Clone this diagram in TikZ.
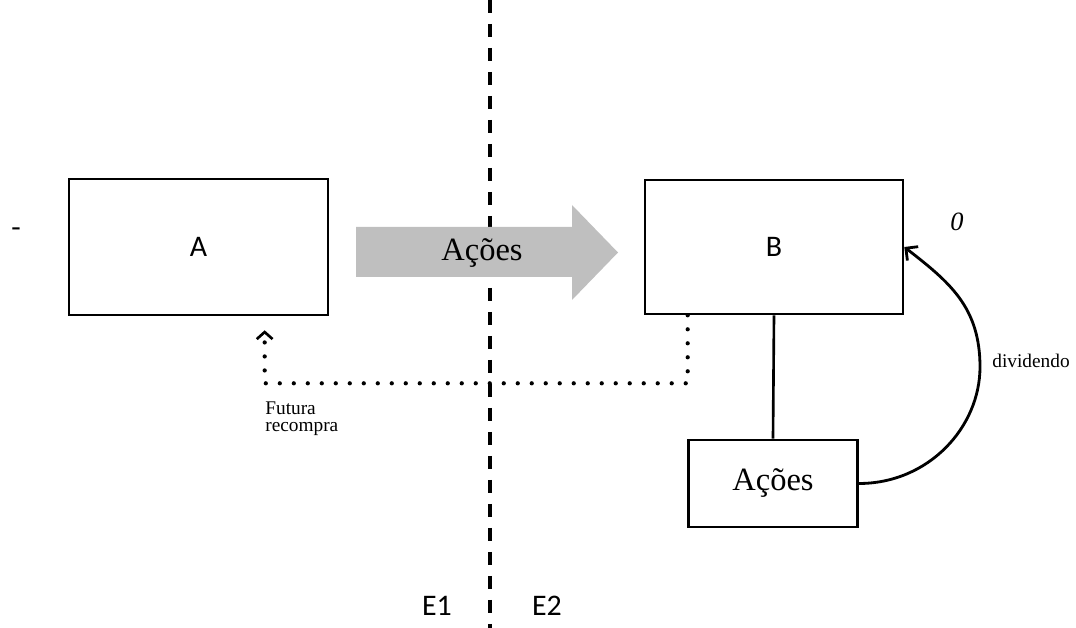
\documentclass[tikz,border=0pt]{standalone}
\usepackage{fontspec}
\setmainfont{Liberation Serif}
\newfontfamily\calibri{Carlito}
\usetikzlibrary{arrows.meta}
\tikzset{%
caixa/.style 2 args={draw, line width=1.5pt, inner sep=0pt,
  minimum width=#1, minimum height=#2},
rotulo/.style={font=\calibri\fontsize{17}{20}\selectfont},
texto/.style={font=\fontsize{18.5}{22}\selectfont},
nota/.style={font=\fontsize{11}{10}\selectfont, inner sep=0pt},
corte/.style={line width=2.2pt, dash pattern=on .26cm off .22cm},
recompra/.style={line width=.085cm, line cap=round, dash pattern=on 0pt off .28cm,
  -{Straight Barb[length=4pt,width=9pt,line width=1.5pt]}},
}

\begin{document}
\begin{tikzpicture}[x=0.02cm,y=-0.02cm]
  \useasboundingbox (0,0) rectangle (1076,628);
  % linha entre E1 e E2
  \coordinate (topo) at (490,0);
  \coordinate (fundo) at (490,628);
  \draw[corte] (topo) -- (fundo);
  \node[caixa={5.18cm}{2.72cm}, rotulo] (A) at (198.5,247) {A};
  \node[caixa={5.16cm}{2.68cm}, rotulo] (B) at (774,247) {B};
  \node[caixa={3.38cm}{1.74cm}, texto] (acoes) at (773,483.5) {Ações};
  \fill[gray!50] (356,227) -- (572,227) -- (572,205) -- (618,252.5)
    -- (572,300) -- (572,277) -- (356,277) -- cycle;
  \node[texto] (fluxo) at (482,253) {Ações};
  \draw[line width=1.5pt] (B.south) -- (acoes.north);
  \draw[line width=1.6pt, -{Straight Barb[length=5pt,width=10pt]}]
    (acoes.east) .. controls +(70,0) and +(0,60) .. (980,367)
    .. controls +(0,-60) and +(45,35) .. (B.east);
  \draw[recompra] ([xshift=.88cm]B.south west) -- ++(0,68)
    -| ([xshift=3.94cm,yshift=-.28cm]A.south west);
  \node[nota, anchor=north west, align=left] (futura) at (265,401) {Futura\\recompra};
  \node[nota, anchor=west] (dividendo) at (992,361) {dividendo};
  \node[font=\fontsize{15}{18}\selectfont\itshape] (zero) at (957,222) {0};
  \node[font=\fontsize{16}{19}\selectfont] (traco) at (16,232) {-};
  \node[rotulo] (E1) at (437,606) {E1};
  \node[rotulo] (E2) at (547,606) {E2};
\end{tikzpicture}
\end{document}
